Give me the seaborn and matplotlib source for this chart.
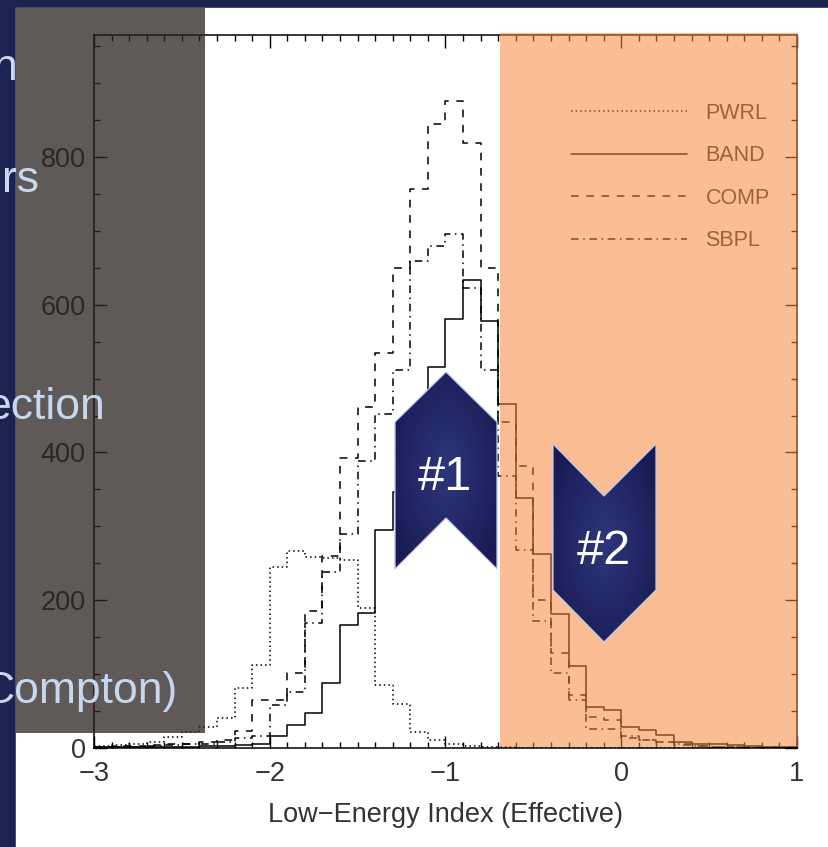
import numpy as np
import pandas as pd
import seaborn as sns
import matplotlib.pyplot as plt
from matplotlib.patches import Rectangle, Polygon
from matplotlib.lines import Line2D
from matplotlib.ticker import MultipleLocator

# bins of width 0.1 from -3 to 1
edges = np.round(np.arange(-3.0, 1.0001, 0.1), 2)
centers = (edges[:-1] + edges[1:]) / 2

# counts per bin (left edge -3.0 ... 0.9)
pwrl = [3, 4, 6, 8, 15, 22, 28, 41, 81, 112,
        245, 267, 258, 257, 255, 190, 85, 59, 22, 11,
        5, 3, 2, 1, 0, 0, 0, 0, 0, 0,
        0, 0, 0, 0, 0, 0, 0, 0, 0, 0]
band = [1, 1, 1, 2, 2, 2, 3, 3, 4, 5,
        16, 31, 47, 88, 166, 183, 295, 346, 430, 515,
        580, 634, 578, 465, 339, 263, 182, 111, 56, 51,
        28, 25, 17, 8, 6, 5, 4, 3, 2, 2]
comp = [2, 3, 3, 4, 5, 6, 8, 11, 23, 65,
        65, 101, 186, 260, 392, 461, 535, 650, 757, 845,
        876, 819, 650, 441, 381, 200, 128, 72, 42, 38,
        13, 11, 8, 4, 3, 2, 2, 1, 1, 1]
sbpl = [1, 2, 2, 3, 4, 5, 6, 8, 13, 16,
        58, 76, 169, 238, 290, 389, 452, 511, 659, 680,
        696, 623, 511, 368, 268, 172, 101, 65, 26, 26,
        16, 11, 8, 5, 3, 2, 1, 1, 1, 0]

models = ['PWRL', 'BAND', 'COMP', 'SBPL']
styles = {'PWRL': (0, (1, 2)), 'BAND': '-', 'COMP': (0, (5, 5)), 'SBPL': (0, (5, 3, 1, 3))}

df = pd.DataFrame({'center': np.tile(centers, 4),
                   'count': pwrl + band + comp + sbpl,
                   'model': np.repeat(models, len(centers))})

sns.set_style('ticks')
plt.rcParams['font.family'] = ['Liberation Sans', 'DejaVu Sans']

W, H = 829, 847
fig = plt.figure(figsize=(W / 100, H / 100), dpi=100, facecolor='#1c2350')

# slide background: white picture on navy slide
bg = fig.add_axes([0, 0, 1, 1], zorder=-1)
bg.set_xlim(0, W); bg.set_ylim(H, 0); bg.axis('off')
bg.add_patch(Rectangle((16, 8), W - 16, H - 8, color='white'))

ax = fig.add_axes([94 / W, 1 - 748 / H, (797 - 94) / W, (748 - 35) / H])
ax.set_facecolor('white')
for m in models:
    sub = df[df['model'] == m]
    sns.histplot(data=sub, x='center', weights='count', binwidth=0.1, binrange=(-3, 1),
                 element='step', fill=False, color='black', linewidth=1.1,
                 linestyle=styles[m], ax=ax)

ax.set_xlim(-3, 1)
ax.set_ylim(0, 965)
ax.set_xticks([-3, -2, -1, 0, 1])
ax.set_yticks([0, 200, 400, 600, 800])
ax.xaxis.set_minor_locator(MultipleLocator(0.1))
ax.yaxis.set_minor_locator(MultipleLocator(50))
ax.tick_params(which='both', direction='in', top=True, right=True, colors='black',
               labelcolor='#333333', labelsize=19.5, width=1)
ax.tick_params(which='major', length=9)
ax.tick_params(which='minor', length=4.5)
ax.tick_params(axis='x', pad=9)
ax.tick_params(axis='y', pad=6)
for s in ax.spines.values():
    s.set_linewidth(1.1)
    s.set_color('black')
ax.set_xlabel('Low\u2212Energy Index (Effective)', fontsize=19.5, color='#333333', labelpad=11)
ax.set_ylabel('')

handles = [Line2D([], [], color='black', linewidth=1.1, linestyle=styles[m]) for m in models]
ax.legend(handles, models, loc='upper left', bbox_to_anchor=(0.6785, 0.905),
          frameon=False, fontsize=15.5, handlelength=5.4, handletextpad=0.85,
          labelspacing=1.0, borderpad=0, borderaxespad=0, labelcolor='#333333')

# overlay in pixel coordinates
ov = fig.add_axes([0, 0, 1, 1], zorder=5)
ov.set_xlim(0, W); ov.set_ylim(H, 0); ov.axis('off')
ov.patch.set_alpha(0)

ov.add_patch(Rectangle((500, 33), 298, 714, facecolor=(248 / 255, 137 / 255, 60 / 255),
                       alpha=0.55, edgecolor='none', zorder=2))
ov.add_patch(Rectangle((16, 8), 189, 725, facecolor=(42 / 255, 35 / 255, 31 / 255),
                       alpha=0.75, edgecolor='none', zorder=3))

slide_text = ['n', 'rs', 'ection', 'Compton)']
text_pos = [(18, 80), (39, 192), (105, 419), (178, 703)]
for s, (x, y) in zip(slide_text, text_pos):
    ov.text(x, y, s, ha='right', va='baseline', fontsize=32, color='#c5d8f0', zorder=4)


def chevron(pts, label, cx, cy):
    poly = Polygon(pts, closed=True, facecolor='none', edgecolor='#c3c8e8', linewidth=0.9, zorder=8)
    ov.add_patch(poly)
    xs = [p[0] for p in pts]
    ys = [p[1] for p in pts]
    x0, x1, y0, y1 = min(xs), max(xs), min(ys), max(ys)
    gx, gy = np.meshgrid(np.linspace(-1, 1, 120), np.linspace(-1, 1, 160))
    r = np.clip(np.sqrt(gx ** 2 + gy ** 2) / 1.2, 0, 1)[..., None]
    inner = np.array([46, 55, 124]) / 255
    outer = np.array([25, 27, 84]) / 255
    img = inner * (1 - r) + outer * r
    im = ov.imshow(img, extent=(x0, x1, y1, y0), aspect='auto', zorder=7, interpolation='bilinear')
    clip = Polygon(pts, closed=True, transform=ov.transData)
    im.set_clip_path(clip)
    ov.text(cx, cy, label, ha='center', va='center', fontsize=35, color='white', zorder=9)


chevron([(446, 372), (497, 422), (497, 569), (446, 518), (395, 569), (395, 422)], '#1', 445, 478)
chevron([(553, 444), (604, 496), (656, 444), (656, 590), (604, 642), (553, 590)], '#2', 604, 552)
ov.set_xlim(0, W); ov.set_ylim(H, 0)

fig.savefig('out.png', dpi=100, facecolor=fig.get_facecolor())
